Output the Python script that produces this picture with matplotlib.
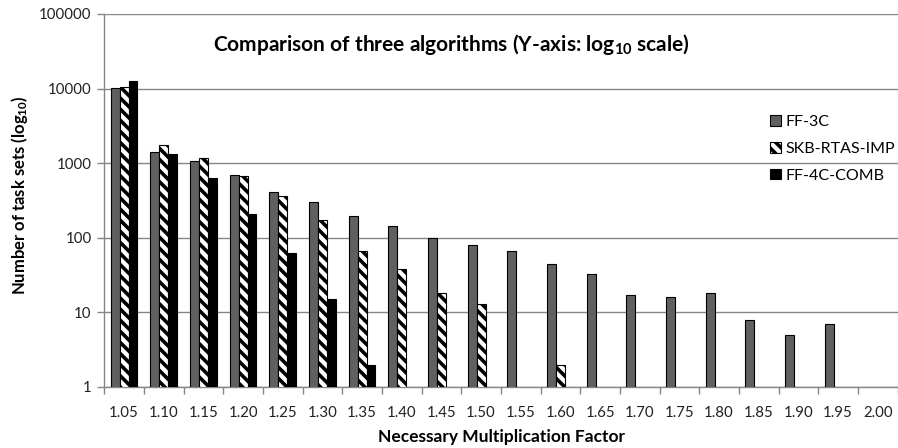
import matplotlib
matplotlib.use("Agg")
import matplotlib.pyplot as plt
import matplotlib.ticker as mt
import numpy as np

plt.rcParams['font.family'] = ['Lato', 'DejaVu Sans']
plt.rcParams['mathtext.fontset'] = 'custom'
plt.rcParams['mathtext.bf'] = 'Lato:bold'
plt.rcParams['mathtext.rm'] = 'Lato'
plt.rcParams['mathtext.default'] = 'bf'
plt.rcParams['hatch.linewidth'] = 2.6

factors = ['1.05', '1.10', '1.15', '1.20', '1.25', '1.30', '1.35', '1.40', '1.45', '1.50',
           '1.55', '1.60', '1.65', '1.70', '1.75', '1.80', '1.85', '1.90', '1.95', '2.00']
ff3c = [10150, 1415, 1080, 695, 417, 300, 193, 144, 98, 79,
        66, 44, 33, 17, 16, 18, 8, 5, 7, None]
skb = [10500, 1770, 1175, 668, 360, 174, 66, 38, 18, 13,
       None, 2, None, None, None, None, None, None, None, None]
ff4c = [12600, 1330, 633, 209, 62, 15, 2, None, None, None,
        None, None, None, None, None, None, None, None, None, None]

def arr(v):
    return np.array([np.nan if a is None else a for a in v], dtype=float)

fig = plt.figure(figsize=(8.98, 4.48), dpi=100)
ax = fig.add_axes([0.1161, 0.1362, 0.8835, 0.8326])

x = np.arange(len(factors))
w = 0.224
ax.bar(x - w, arr(ff3c), w, color='#606060', edgecolor='black', linewidth=0.8, label='FF-3C', zorder=3)
ax.bar(x, arr(skb), w, color='white', edgecolor='black', linewidth=0.8, hatch='\\\\\\', label='SKB-RTAS-IMP', zorder=3)
ax.bar(x + w, arr(ff4c), w, color='black', edgecolor='black', linewidth=0.8, label='FF-4C-COMB', zorder=3)

ax.set_yscale('log')
ax.set_ylim(1, 100000)
ax.set_xlim(-0.5, len(factors) - 0.5)
ax.yaxis.set_major_locator(mt.LogLocator(base=10, numticks=10))
ax.yaxis.set_minor_locator(mt.NullLocator())
ax.yaxis.set_major_formatter(mt.FuncFormatter(lambda v, p: '%d' % round(v)))
ax.grid(axis='y', color='#868686', linewidth=1.0, zorder=0)

ax.set_xticks(x)
ax.set_xticklabels(factors)
ax.set_xticks(np.arange(-0.5, len(factors)), minor=True)
ax.tick_params(axis='x', which='major', length=0, pad=14, labelsize=10.8, labelcolor='#222222')
ax.tick_params(axis='x', which='minor', length=5, color='#868686', width=1)
ax.tick_params(axis='y', length=5, color='#868686', width=1, labelsize=10.8, labelcolor='#222222', pad=4)

for s in ['top', 'right']:
    ax.spines[s].set_visible(False)
for s in ['left', 'bottom']:
    ax.spines[s].set_color('#868686')
    ax.spines[s].set_linewidth(1)

fig.text(0.022, 0.565, 'Number of task sets (log$_{10}$)', rotation=90, fontsize=12,
         fontweight='bold', ha='center', va='center')
fig.text(0.559, 0.024, 'Necessary Multiplication Factor', fontsize=12.5, fontweight='bold',
         ha='center', va='center')
fig.text(0.503, 0.9, 'Comparison of three algorithms (Y-axis: log$_{10}$ scale)', fontsize=15,
         fontweight='bold', ha='center', va='center')

ax.legend(loc='upper left', bbox_to_anchor=(0.842, 0.775), bbox_transform=fig.transFigure,
          frameon=False, fontsize=11.5, handlelength=0.65, handleheight=0.65,
          handletextpad=0.3, labelspacing=0.8)

fig.savefig('out.png', dpi=100)
